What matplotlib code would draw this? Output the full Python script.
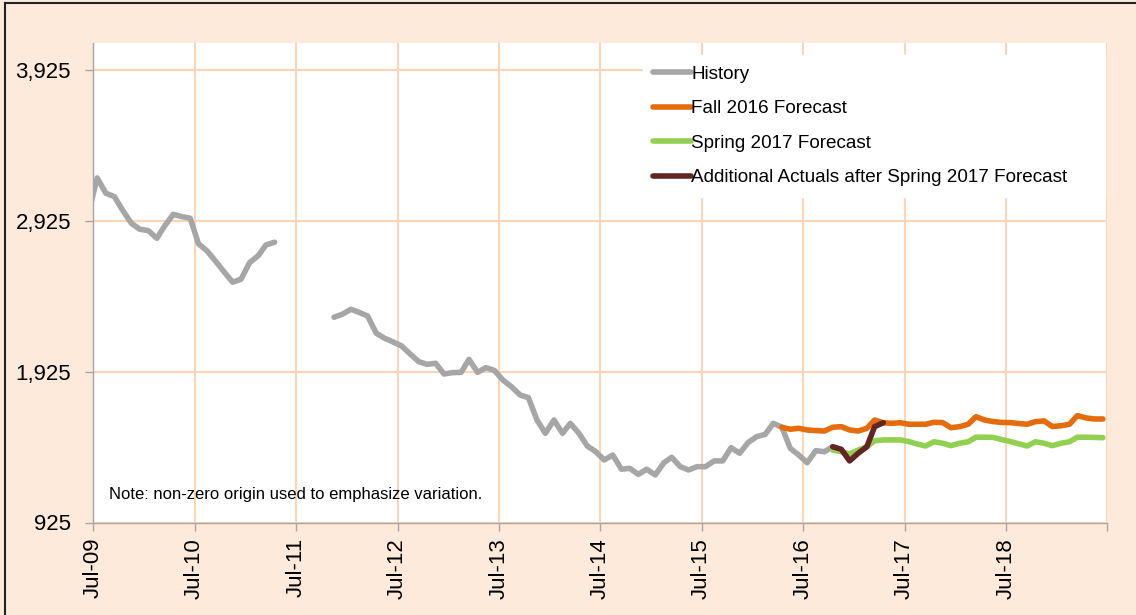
import numpy as np
import pandas as pd
import matplotlib

matplotlib.use("Agg")
import matplotlib.pyplot as plt
from matplotlib.lines import Line2D

plt.rcParams["font.family"] = ["Liberation Sans", "DejaVu Sans"]

# monthly values, plotted mid-month; first point is Jun-09 (clipped by the axis)
hist_start = "2009-06"
history = [
    2983, 3208, 3107, 3084, 2993, 2908, 2868, 2859, 2808, 2890, 2967, 2952,
    2941, 2771, 2724, 2655, 2586, 2517, 2537, 2647, 2693, 2764, 2782,
    None, None, None, None, None, None,
    2285, 2305, 2338, 2316, 2293, 2179, 2146, 2121, 2095, 2042, 1991, 1973,
    1980, 1909, 1918, 1920, 2006, 1920, 1951, 1932, 1869, 1825, 1770, 1752,
    1604, 1516, 1604, 1516, 1582, 1516, 1432, 1394, 1339, 1372, 1278, 1284,
    1244, 1278, 1240, 1321, 1357, 1295, 1273, 1295, 1295, 1333, 1333, 1421,
    1384, 1454, 1494, 1509, 1582, 1556, 1417, 1372, 1321, 1401, 1394, 1427,
]

fall_start = "2016-04"
fall_2016 = [
    1556, 1543, 1549, 1538, 1534, 1531, 1556, 1560, 1538, 1531, 1549, 1604,
    1586, 1582, 1586, 1576, 1576, 1576, 1589, 1587, 1553, 1560, 1576, 1626,
    1604, 1594, 1588, 1587, 1581, 1576, 1593, 1598, 1561, 1566, 1576, 1633,
    1618, 1611, 1611,
]

spring_start = "2016-10"
spring_2017 = [
    1405, 1394, 1379, 1405, 1427, 1467, 1472, 1472, 1472, 1462, 1445, 1432,
    1460, 1450, 1434, 1450, 1460, 1490, 1490, 1489, 1475, 1462, 1447, 1432,
    1460, 1450, 1434, 1450, 1460, 1490, 1490, 1489, 1487,
]

actuals_start = "2016-10"
actuals = [1427, 1410, 1333, 1384, 1427, 1560, 1586]

y_ticks = [925, 1925, 2925, 3925]
x_tick_years = list(range(2009, 2020))


def monthly(start, values):
    idx = pd.date_range(start + "-01", periods=len(values), freq="MS") + pd.Timedelta(days=14)
    return idx, np.array([np.nan if v is None else v for v in values], dtype=float)


PEACH = "#FDEADA"
GRID = "#FCD5B5"
AXIS = "#A6A6A6"

fig = plt.figure(figsize=(11.36, 6.15), dpi=100, facecolor=PEACH)
ax = fig.add_axes([93.3 / 1136, 1 - 522.5 / 615, 1014 / 1136, 479.2 / 615])
ax.set_facecolor("white")

series = [
    (hist_start, history, "#A6A6A6", "History"),
    (fall_start, fall_2016, "#E46C0A", "Fall 2016 Forecast"),
    (spring_start, spring_2017, "#92D050", "Spring 2017 Forecast"),
    (actuals_start, actuals, "#632523", "Additional Actuals after Spring 2017 Forecast"),
]
for start, vals, col, lab in series:
    x, y = monthly(start, vals)
    ax.plot(x, y, color=col, lw=4.0, label=lab, solid_capstyle="round", solid_joinstyle="round")

xt = [pd.Timestamp(f"{yr}-07-01") for yr in x_tick_years]
ax.set_xlim(xt[0], xt[-1])
ax.set_ylim(925, 4100)
ax.set_xticks(xt)
ax.set_xticklabels([t.strftime("%b-%y") for t in xt[:-1]] + [""], rotation=90, fontsize=16)
ax.set_yticks(y_ticks)
ax.set_yticklabels([f"{v:,}" for v in y_ticks], fontsize=16)
ax.tick_params(axis="both", direction="out", length=6, width=1, color=AXIS)
ax.tick_params(axis="x", pad=5)
ax.tick_params(axis="y", pad=10)

ax.grid(True, color=GRID, lw=1.5)
ax.set_axisbelow(True)
for side in ("top", "right"):
    ax.spines[side].set_visible(False)
for side in ("left", "bottom"):
    ax.spines[side].set_color(AXIS)
    ax.spines[side].set_linewidth(1)

leg = ax.legend(
    loc="upper left",
    bbox_to_anchor=(643 / 1136, 1 - 191 / 615, 462 / 1136, 136 / 615),
    bbox_transform=fig.transFigure,
    mode="expand",
    fontsize=13.6,
    frameon=True,
    framealpha=1,
    fancybox=False,
    handlelength=2.0,
    handletextpad=0.0,
    labelspacing=0.92,
    borderpad=0.55,
    borderaxespad=0,
)
leg.get_frame().set_facecolor("white")
leg.get_frame().set_edgecolor("white")

ax.text(109 / 1136, 1 - 494 / 615, "Note: non-zero origin used to emphasize variation.",
        transform=fig.transFigure, fontsize=12, va="center", ha="left")

# thin dark border of the exported chart area
fig.add_artist(Line2D([5 / 1136, 5 / 1136], [0, 1 - 3 / 615], transform=fig.transFigure, color="#222222", lw=1.5))
fig.add_artist(Line2D([5 / 1136, 1], [1 - 3 / 615, 1 - 3 / 615], transform=fig.transFigure, color="#222222", lw=1.5))

fig.savefig("out.png", dpi=100, facecolor=PEACH)
